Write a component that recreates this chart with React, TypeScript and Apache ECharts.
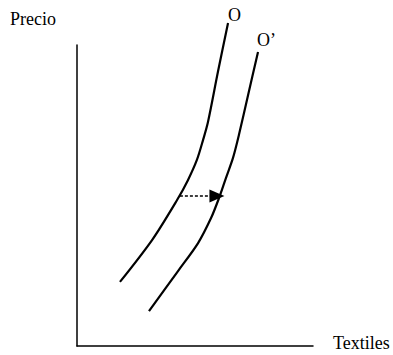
import React, { useEffect, useRef } from "react";
import * as echarts from "echarts";

// Supply curve O (x = quantity of textiles, y = price), arbitrary units 0..10
const curveO: [number, number][] = [
  [1.82, 2.13],
  [3.18, 3.52],
  [4.24, 4.85],
  [4.7, 5.51],
  [5.08, 6.18],
  [5.34, 6.84],
  [5.55, 7.44],
  [5.97, 9.1],
  [6.4, 10.73],
];
// Shifted supply curve O'
const curveO2: [number, number][] = [
  [3.05, 1.16],
  [4.28, 2.49],
  [5.13, 3.42],
  [5.68, 4.25],
  [6.02, 4.92],
  [6.31, 5.58],
  [6.61, 6.25],
  [6.86, 7.01],
  [7.25, 8.34],
  [7.67, 9.77],
];
// Shift arrow (from O to O') at a given price
const arrowY = 4.98;
const arrowFromX = 4.36;
const arrowToX = 5.93;

const labels = { y: "Precio", x: "Textiles", o: "O", o2: "O\u2019" };

export default function App() {
  const ref = useRef<HTMLDivElement>(null);
  useEffect(() => {
    const chart = echarts.init(ref.current!, null, { renderer: "svg" });
    const font = "'Liberation Serif', 'Times New Roman', serif";
    chart.setOption({
      animation: false,
      backgroundColor: "#ffffff",
      grid: { left: 77, top: 45, right: 80, bottom: 9, containLabel: false },
      xAxis: {
        type: "value",
        min: 0,
        max: 10,
        axisLine: { show: true, onZero: false, lineStyle: { color: "#000", width: 1.5 } },
        axisTick: { show: false },
        axisLabel: { show: false },
        splitLine: { show: false },
      },
      yAxis: {
        type: "value",
        min: 0,
        max: 10,
        axisLine: { show: true, onZero: false, lineStyle: { color: "#000", width: 1.5 } },
        axisTick: { show: false },
        axisLabel: { show: false },
        splitLine: { show: false },
      },
      series: [
        {
          type: "line",
          data: curveO,
          smooth: 0.3,
          clip: false,
          showSymbol: false,
          symbol: "none",
          lineStyle: { color: "#000", width: 2.2 },
          markLine: {
            silent: true,
            symbol: ["none", "triangle"],
            symbolSize: [13, 15],
            label: { show: false },
            lineStyle: { color: "#000", width: 1.5, type: [3, 2] },
            data: [[{ coord: [arrowFromX, arrowY] }, { coord: [arrowToX, arrowY] }]],
          },
        },
        {
          type: "line",
          data: curveO2,
          smooth: 0.3,
          clip: false,
          showSymbol: false,
          symbol: "none",
          lineStyle: { color: "#000", width: 2.2 },
        },
      ],
      graphic: [
        { type: "text", left: 10, top: 10, style: { text: labels.y, font: `18px ${font}`, fill: "#000" } },
        { type: "text", left: 333, top: 334, style: { text: labels.x, font: `18px ${font}`, fill: "#000" } },
        { type: "text", left: 228, top: 6, style: { text: labels.o, font: `18px ${font}`, fill: "#000" } },
        { type: "text", left: 257, top: 31, style: { text: labels.o2, font: `18px ${font}`, fill: "#000" } },
      ],
    });
    return () => chart.dispose();
  }, []);
  return <div ref={ref} style={{ width: 393, height: 355, position: "absolute", left: 0, top: 0 }} />;
}
